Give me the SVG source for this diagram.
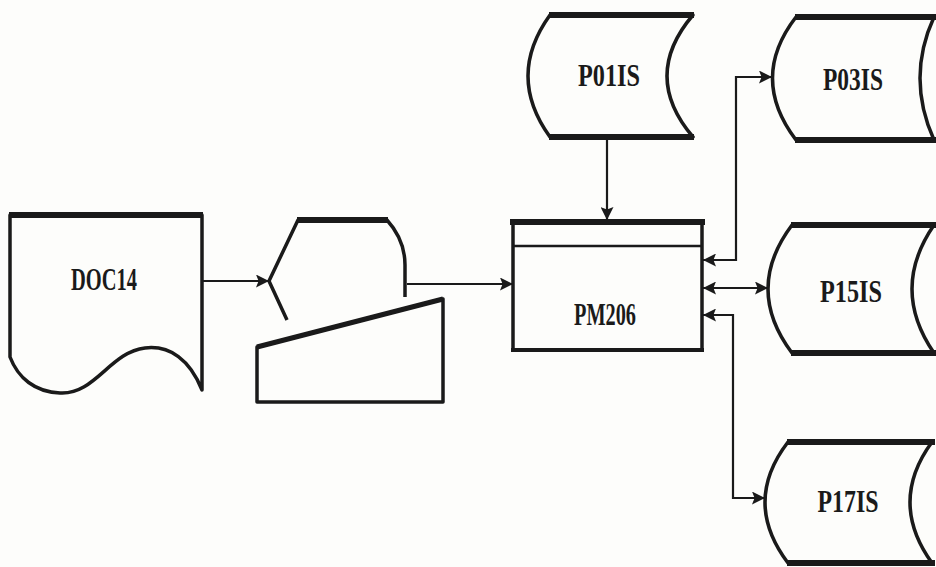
<svg xmlns="http://www.w3.org/2000/svg" width="936" height="567" viewBox="0 0 936 567">
<style>
.shape{fill:none;stroke:#1a1a1a;stroke-width:3.5;stroke-linejoin:round}
.thick{fill:none;stroke:#1a1a1a;stroke-width:6;stroke-linecap:square}
.conn{fill:none;stroke:#1a1a1a;stroke-width:2.2}
.lbl{font-family:"Liberation Serif",serif;font-weight:bold;font-size:31px;fill:#1a1a1a;text-anchor:middle}
</style>
<defs>
<marker id="ah" viewBox="0 0 10 10" refX="10" refY="5" markerWidth="13" markerHeight="13" orient="auto-start-reverse" markerUnits="userSpaceOnUse">
<path d="M0,0 L10,5 L0,10 L2,5 Z" fill="#1a1a1a"/>
</marker>
</defs>
<rect width="936" height="567" fill="#fdfdfb"/>
<g id="DOC14">
<path class="shape" d="M10,357 L10,215 L202,215 L202,390 C190,360 170,345 145,348 C110,352 95,395 60,393 C35,392 18,378 10,357 Z"/>
<line class="thick" x1="12" y1="215" x2="200" y2="215"/>
<text class="lbl" x="104" y="290" textLength="66" lengthAdjust="spacingAndGlyphs">DOC14</text>
</g>
<g id="manual">
<path class="shape" d="M287,320 L269,281 L298,220 L387,220 Q405,240 405,265 L405,297"/>
<line class="thick" x1="300" y1="220" x2="385" y2="220"/>
<path class="shape" d="M257,347 L443,299 L443,402 L257,402 Z"/>
<line class="shape" x1="257" y1="347" x2="443" y2="299" style="stroke-width:5"/>
</g>
<g id="PM206">
<rect class="shape" x="513" y="222" width="189" height="128"/>
<line class="thick" x1="513" y1="222" x2="702" y2="222"/>
<line class="thick" x1="513" y1="350" x2="702" y2="350" style="stroke-width:4"/>
<line class="shape" x1="513" y1="246" x2="702" y2="246" style="stroke-width:2.5"/>
<text class="lbl" x="605" y="325" textLength="62" lengthAdjust="spacingAndGlyphs">PM206</text>
</g>
<g id="P01IS">
<path class="shape" d="M550,15 L693,15 Q641,76 693,137 L550,137 Q506,76 550,15 Z"/>
<line class="thick" x1="552" y1="15" x2="691" y2="15"/>
<line class="thick" x1="552" y1="137" x2="691" y2="137"/>
<text class="lbl" x="609" y="86" textLength="62" lengthAdjust="spacingAndGlyphs">P01IS</text>
</g>
<g id="P03IS">
<path class="shape" d="M796,17 L934,17 Q906,78 934,140 L796,140 Q749,78 796,17 Z"/>
<line class="thick" x1="798" y1="17" x2="934" y2="17"/>
<line class="thick" x1="798" y1="140" x2="934" y2="140"/>
<text class="lbl" x="853" y="90" textLength="60" lengthAdjust="spacingAndGlyphs">P03IS</text>
</g>
<g id="P15IS">
<path class="shape" d="M792,225 L934,225 Q890,289 934,353 L792,353 Q744,289 792,225 Z"/>
<line class="thick" x1="794" y1="225" x2="934" y2="225"/>
<line class="thick" x1="794" y1="353" x2="934" y2="353"/>
<text class="lbl" x="851" y="302" textLength="62" lengthAdjust="spacingAndGlyphs">P15IS</text>
</g>
<g id="P17IS">
<path class="shape" d="M788,442 L932,442 Q888,502 932,563 L788,563 Q742,502 788,442 Z"/>
<line class="thick" x1="790" y1="442" x2="932" y2="442"/>
<line class="thick" x1="790" y1="563" x2="932" y2="563"/>
<text class="lbl" x="848" y="512" textLength="61" lengthAdjust="spacingAndGlyphs">P17IS</text>
</g>
<g id="connectors">
<path class="conn" d="M202,281 L269,281" marker-end="url(#ah)"/>
<path class="conn" d="M407,284 L513,284" marker-end="url(#ah)"/>
<path class="conn" d="M607,140 L607,220" marker-end="url(#ah)"/>
<path class="conn" d="M703,260 L736,260 L736,77 L772,77" marker-start="url(#ah)" marker-end="url(#ah)"/>
<path class="conn" d="M703,288 L768,288" marker-start="url(#ah)" marker-end="url(#ah)"/>
<path class="conn" d="M703,315 L733,315 L733,498 L765,498" marker-start="url(#ah)" marker-end="url(#ah)"/>
</g>
</svg>
